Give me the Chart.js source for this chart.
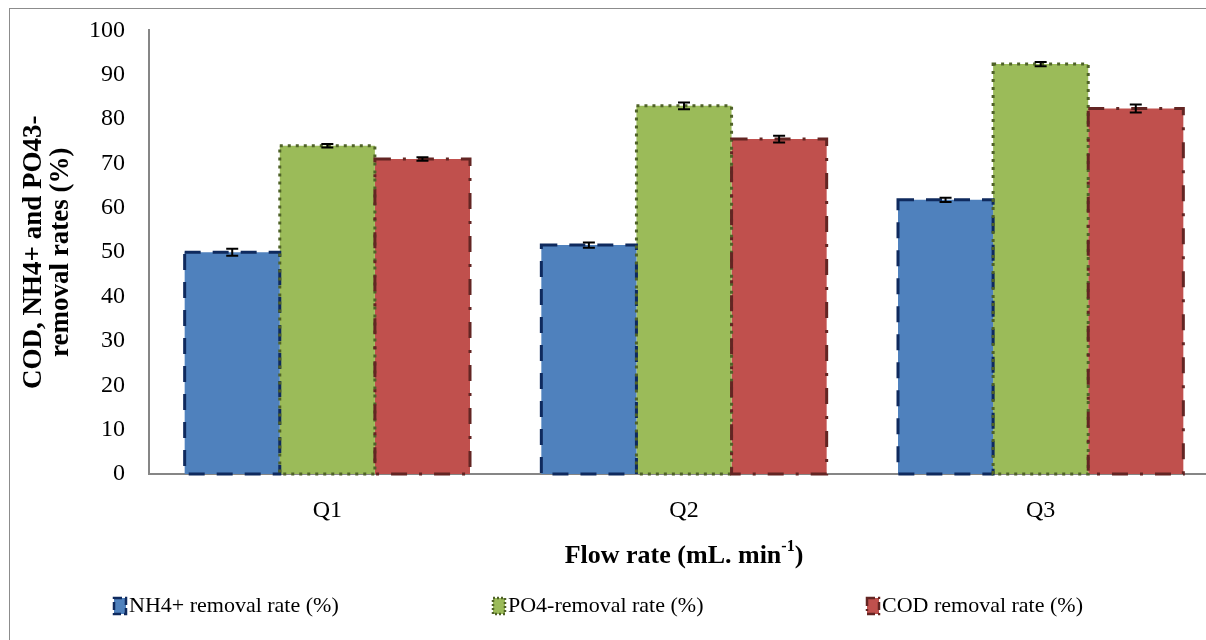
<!DOCTYPE html>
<html>
<head>
<meta charset="utf-8">
<script src="https://cdn.jsdelivr.net/npm/chart.js@4.4.1/dist/chart.umd.min.js"></script>
<style>
    html, body { margin: 0; padding: 0; background: #fff; overflow: hidden; }
    #frame { position: absolute; left: 9px; top: 8px; width: 1300px; height: 700px; border: 1px solid #8c8c8c; box-sizing: border-box; }
    #chart { position: absolute; left: 0; top: 0; }
</style>
</head>
<body>
<div id="frame"></div>
<canvas id="chart" width="1230" height="640"></canvas>
<script>
// ── Data ─────────────────────────────────────────────────
const categories = ["Q1", "Q2", "Q3"];
const nh4Removal = [50.0, 51.6, 61.8];
const po4Removal = [74.0, 83.0, 92.4];
const codRemoval = [71.0, 75.5, 82.4];
const nh4Error = [0.8, 0.6, 0.5];
const po4Error = [0.4, 0.75, 0.5];
const codError = [0.4, 0.75, 0.9];
const seriesLabels = ["NH4+ removal rate (%)", "PO4-removal rate (%)", "COD removal rate (%)"];

const FONT = "'Liberation Serif', 'Times New Roman', serif";

// ── Dashed bar outlines (Excel style) ────────────────────
const barOutlines = {
    id: "barOutlines",
    afterDatasetsDraw(chart) {
        const ctx = chart.ctx;
        chart.data.datasets.forEach((ds, i) => {
            const meta = chart.getDatasetMeta(i);
            ctx.save();
            ctx.strokeStyle = ds.outlineColor;
            ctx.lineWidth = 3;
            ctx.setLineDash(ds.outlineDash);
            meta.data.forEach((bar) => {
                const { x, y, base, width } = bar.getProps(["x", "y", "base", "width"], true);
                ctx.strokeRect(x - width / 2, y, width, base - y);
            });
            ctx.restore();
        });
    }
};

// ── Error bars ───────────────────────────────────────────
const errorBars = {
    id: "errorBars",
    afterDatasetsDraw(chart) {
        const ctx = chart.ctx;
        const yScale = chart.scales.y;
        chart.data.datasets.forEach((ds, i) => {
            const meta = chart.getDatasetMeta(i);
            ctx.save();
            ctx.strokeStyle = "#000";
            ctx.lineWidth = 2;
            meta.data.forEach((bar, j) => {
                const v = ds.data[j];
                const e = ds.errors[j];
                const top = yScale.getPixelForValue(v + e);
                const bottom = yScale.getPixelForValue(v - e);
                const x = bar.x;
                ctx.beginPath();
                ctx.moveTo(x, top);
                ctx.lineTo(x, bottom);
                ctx.moveTo(x - 6, top);
                ctx.lineTo(x + 6, top);
                ctx.moveTo(x - 6, bottom);
                ctx.lineTo(x + 6, bottom);
                ctx.stroke();
            });
            ctx.restore();
        });
    }
};

// ── X title with superscript + legend ────────────────────
const extras = {
    id: "extras",
    afterDraw(chart) {
        const ctx = chart.ctx;
        const area = chart.chartArea;
        ctx.save();

        // x axis title
        const cx = (area.left + area.right) / 2;
        const ty = 556;
        const part1 = "Flow rate (mL. min";
        const sup = "-1";
        const part2 = ")";
        ctx.fillStyle = "#000";
        ctx.textBaseline = "middle";
        ctx.font = `bold 26px ${FONT}`;
        const w1 = ctx.measureText(part1).width;
        const w3 = ctx.measureText(part2).width;
        ctx.font = `bold 16px ${FONT}`;
        const w2 = ctx.measureText(sup).width;
        const x = cx - (w1 + w2 + w3) / 2;
        ctx.font = `bold 26px ${FONT}`;
        ctx.textAlign = "left";
        ctx.fillText(part1, x, ty);
        ctx.font = `bold 16px ${FONT}`;
        ctx.fillText(sup, x + w1, ty - 9);
        ctx.font = `bold 26px ${FONT}`;
        ctx.fillText(part2, x + w1 + w2, ty);

        // legend
        const ly = 606;
        const legendX = [114, 493, 867];
        chart.data.datasets.forEach((ds, i) => {
            const bx = legendX[i];
            ctx.fillStyle = ds.backgroundColor;
            ctx.fillRect(bx, ly - 8, 12, 16);
            ctx.strokeStyle = ds.outlineColor;
            ctx.lineWidth = 2.5;
            ctx.setLineDash(ds.legendDash);
            ctx.strokeRect(bx, ly - 8, 12, 16);
            ctx.setLineDash([]);
            ctx.fillStyle = "#000";
            ctx.font = `22px ${FONT}`;
            ctx.fillText(ds.label, bx + 15, ly);
        });
        ctx.restore();
    }
};

new Chart(document.getElementById("chart"), {
    type: "bar",
    data: {
        labels: categories,
        datasets: [
            {
                label: seriesLabels[0],
                data: nh4Removal,
                errors: nh4Error,
                backgroundColor: "#4f81bd",
                outlineColor: "#0f2a5e",
                outlineDash: [16, 12],
                legendDash: [8, 3],
                borderWidth: 0
            },
            {
                label: seriesLabels[1],
                data: po4Removal,
                errors: po4Error,
                backgroundColor: "#9bbb59",
                outlineColor: "#4f6228",
                outlineDash: [3, 5],
                legendDash: [2, 2],
                borderWidth: 0
            },
            {
                label: seriesLabels[2],
                data: codRemoval,
                errors: codError,
                backgroundColor: "#c0504d",
                outlineColor: "#632523",
                outlineDash: [16, 12, 3, 12],
                legendDash: [8, 3, 2, 3],
                borderWidth: 0
            }
        ]
    },
    options: {
        responsive: false,
        animation: false,
        categoryPercentage: 0.8,
        barPercentage: 1,
        layout: {
            padding: { left: 10, top: 14, right: 11, bottom: 0 }
        },
        plugins: {
            legend: { display: false },
            tooltip: { enabled: false }
        },
        scales: {
            x: {
                grid: { display: false },
                border: { color: "#868686", width: 2 },
                ticks: { font: { family: FONT, size: 24 }, color: "#000", padding: 14 },
                afterFit: (scale) => { scale.height = 166; }
            },
            y: {
                min: 0,
                max: 100,
                grid: { display: false },
                border: { color: "#868686", width: 2 },
                ticks: { stepSize: 10, font: { family: FONT, size: 24 }, color: "#000", padding: 16 },
                title: {
                    display: true,
                    text: ["COD, NH4+ and PO43-", "removal rates (%)"],
                    font: { family: FONT, size: 27, weight: "bold", lineHeight: 1.0 },
                    color: "#000",
                    padding: { top: 11, bottom: 0 }
                },
                afterFit: (scale) => { scale.width = 139; }
            }
        }
    },
    plugins: [barOutlines, errorBars, extras]
});
</script>
</body>
</html>
